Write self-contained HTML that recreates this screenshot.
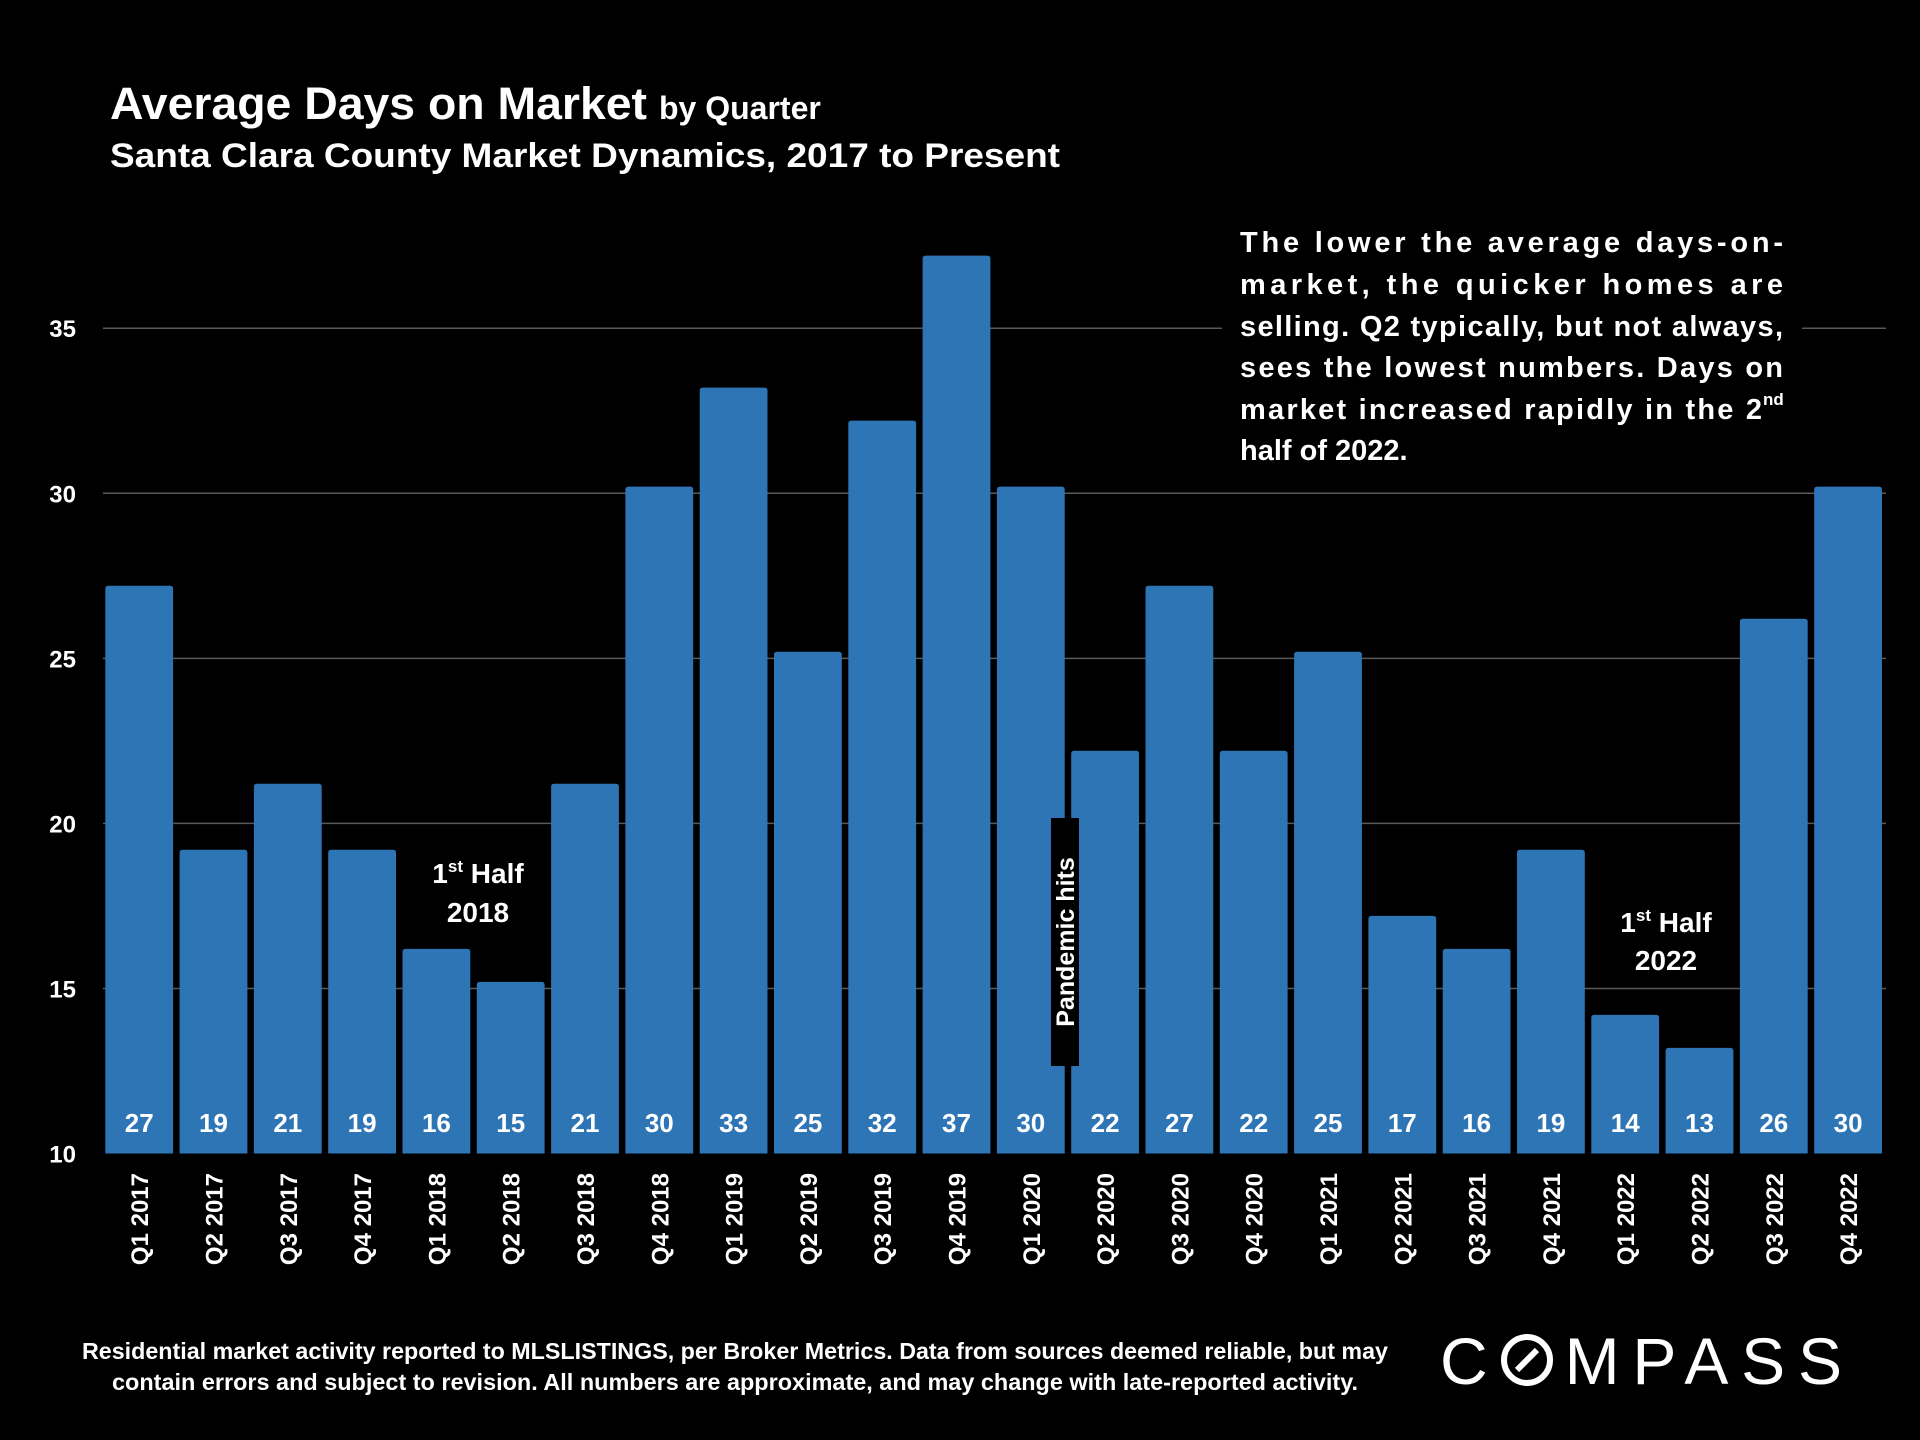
<!DOCTYPE html>
<html><head><meta charset="utf-8"><style>
html,body{margin:0;padding:0;background:#000;}
svg{display:block;}
text{font-family:"Liberation Sans",sans-serif;font-weight:bold;fill:#fff;}
</style></head><body>
<svg id="chart" width="1920" height="1440" viewBox="0 0 1920 1440">
<g>
<text x="110" y="119" font-size="45"><tspan textLength="537" lengthAdjust="spacingAndGlyphs">Average Days on Market</tspan><tspan font-size="32" dx="12">by Quarter</tspan></text>
<text x="110" y="167" font-size="34" textLength="950" lengthAdjust="spacingAndGlyphs">Santa Clara County Market Dynamics, 2017 to Present</text>
</g>
<g id="grid"></g>
<g id="yaxis"></g>
<g id="bars"></g>
<g id="xaxis"></g>
<g>
<rect x="1222" y="215" width="580" height="260" fill="#000"/>
<text x="1240" y="252" font-size="29" textLength="543" lengthAdjust="spacing">The lower the average days-on-</text>
<text x="1240" y="294" font-size="29" textLength="543" lengthAdjust="spacing">market, the quicker homes are</text>
<text x="1240" y="336" font-size="29" textLength="543" lengthAdjust="spacing">selling. Q2 typically, but not always,</text>
<text x="1240" y="377" font-size="29" textLength="543" lengthAdjust="spacing">sees the lowest numbers. Days on</text>
<text x="1240" y="419" font-size="29" textLength="522" lengthAdjust="spacing">market increased rapidly in the 2</text>
<text x="1763" y="405" font-size="17">nd</text>
<text x="1240" y="460" font-size="29">half of 2022.</text>
</g>
<g>
<text x="478" y="883" font-size="28" text-anchor="middle">1<tspan font-size="17" dy="-11">st</tspan><tspan dy="11"> Half</tspan></text>
<text x="478" y="922" font-size="28" text-anchor="middle">2018</text>
</g>
<g>
<text x="1666" y="932" font-size="28" text-anchor="middle">1<tspan font-size="17" dy="-11">st</tspan><tspan dy="11"> Half</tspan></text>
<text x="1666" y="970" font-size="28" text-anchor="middle">2022</text>
</g>
<g>
<rect x="1051" y="818" width="28" height="248" fill="#000"/>
<text transform="translate(1074,942) rotate(-90)" font-size="25" text-anchor="middle">Pandemic hits</text>
</g>
<g>
<text x="735" y="1359" font-size="23" text-anchor="middle" textLength="1306" lengthAdjust="spacingAndGlyphs">Residential market activity reported to MLSLISTINGS, per Broker Metrics. Data from sources deemed reliable, but may</text>
<text x="735" y="1390" font-size="23" text-anchor="middle" textLength="1246" lengthAdjust="spacingAndGlyphs">contain errors and subject to revision. All numbers are approximate, and may change with late-reported activity.</text>
</g>
<g>
<text x="1440" y="1384" font-size="66" style="font-weight:normal" textLength="402" lengthAdjust="spacing">C<tspan fill="#000">O</tspan>MPASS</text>
<circle cx="1527" cy="1360" r="23" fill="none" stroke="#fff" stroke-width="6"/>
<line x1="1517" y1="1370" x2="1537" y2="1350" stroke="#fff" stroke-width="6"/>
</g>
</svg>
<script>
const categories=["Q1 2017","Q2 2017","Q3 2017","Q4 2017","Q1 2018","Q2 2018","Q3 2018","Q4 2018","Q1 2019","Q2 2019","Q3 2019","Q4 2019","Q1 2020","Q2 2020","Q3 2020","Q4 2020","Q1 2021","Q2 2021","Q3 2021","Q4 2021","Q1 2022","Q2 2022","Q3 2022","Q4 2022"];
const values=[27.2,19.2,21.2,19.2,16.2,15.2,21.2,30.2,33.2,25.2,32.2,37.2,30.2,22.2,27.2,22.2,25.2,17.2,16.2,19.2,14.2,13.2,26.2,30.2];
const valueLabels=["27","19","21","19","16","15","21","30","33","25","32","37","30","22","27","22","25","17","16","19","14","13","26","30"];
const yTicks=[10,15,20,25,30,35];
const NS="http://www.w3.org/2000/svg";
const y0=1153.5,pxPer=(1153.5-328.2)/25,barLeft0=105.3,pitch=74.3,bw=67.8;
function yScale(v){return y0-(v-10)*pxPer;}
function xScale(i){return barLeft0+i*pitch;}
function mk(tag,attrs,parent){const e=document.createElementNS(NS,tag);for(const k in attrs)e.setAttribute(k,attrs[k]);parent.appendChild(e);return e;}
const grid=document.getElementById('grid'),ya=document.getElementById('yaxis'),bars=document.getElementById('bars'),xa=document.getElementById('xaxis');
yTicks.forEach(t=>{
 if(t>10){const l=mk('line',{x1:103,x2:1886,y1:yScale(t),y2:yScale(t),stroke:'#595959','stroke-width':1.5},grid);
 
 }
 const tx=mk('text',{x:76,y:yScale(t)+9,'font-size':24,'text-anchor':'end'},ya);
 tx.textContent=t;
 
 
});
values.forEach((v,i)=>{
 const x=xScale(i),y=yScale(v);
 const p=mk('path',{d:`M${x},${y0} L${x},${y+3} Q${x},${y} ${x+3},${y} L${x+bw-3},${y} Q${x+bw},${y} ${x+bw},${y+3} L${x+bw},${y0} Z`,fill:'#2e75b6'},bars);
 
 
 const vl=mk('text',{x:x+bw/2,y:1132,'font-size':26,'text-anchor':'middle'},bars);
 vl.textContent=valueLabels[i];
 
 
 const xl=mk('text',{transform:`translate(${x+bw/2+9},1173) rotate(-90)`,'font-size':24,'text-anchor':'end'},xa);
 xl.textContent=categories[i];
 
 
});
</script>
</body></html>
